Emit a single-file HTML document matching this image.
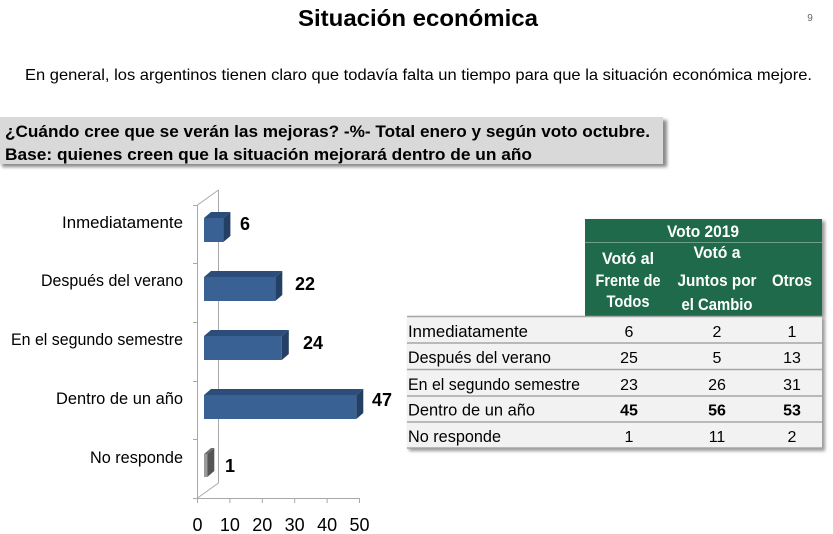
<!DOCTYPE html>
<html><head><meta charset="utf-8"><style>
html,body{margin:0;padding:0;background:#fff;}
svg{display:block;}
text{font-family:"Liberation Sans",Arial,sans-serif;}
</style></head><body>
<svg width="833" height="534" viewBox="0 0 833 534" xmlns="http://www.w3.org/2000/svg">
<defs>
<filter id="sh" x="-5%" y="-20%" width="115%" height="150%"><feGaussianBlur stdDeviation="1.5"/></filter>
</defs>
<rect width="833" height="534" fill="#fff"/>
<!-- Title -->
<text x="418" y="26" text-anchor="middle" font-size="23" font-weight="bold" fill="#000" textLength="240" lengthAdjust="spacingAndGlyphs">Situación económica</text>
<text x="810" y="21" text-anchor="middle" font-size="10" fill="#666">9</text>
<text x="25" y="80" font-size="16" fill="#000" textLength="787" lengthAdjust="spacingAndGlyphs">En general, los argentinos tienen claro que todavía falta un tiempo para que la situación económica mejore.</text>

<!-- Gray box -->
<rect x="2" y="120" width="665" height="47" fill="#8a8a8a" filter="url(#sh)"/>
<rect x="0" y="117" width="663" height="47" fill="#d9d9d9"/>
<text x="5" y="137" font-size="16.5" font-weight="bold" fill="#000" textLength="645" lengthAdjust="spacingAndGlyphs">¿Cuándo cree que se verán las mejoras? -%- Total enero y según voto octubre.</text>
<text x="5" y="160" font-size="16.5" font-weight="bold" fill="#000" textLength="527" lengthAdjust="spacingAndGlyphs">Base: quienes creen que la situación mejorará dentro de un año</text>

<!-- Chart axes -->
<g stroke="#a8a8a8" stroke-width="1" fill="none">
<line x1="197.5" y1="205" x2="197.5" y2="498"/>
<line x1="218.5" y1="190" x2="218.5" y2="483"/>
<line x1="197.5" y1="205" x2="218.5" y2="190"/>
<line x1="197.5" y1="498" x2="218.5" y2="483"/>
<line x1="197" y1="498.5" x2="359.5" y2="498.5"/>
<line x1="193" y1="205.5" x2="197.5" y2="205.5"/>
<line x1="193" y1="263.5" x2="197.5" y2="263.5"/>
<line x1="193" y1="322.5" x2="197.5" y2="322.5"/>
<line x1="193" y1="381.5" x2="197.5" y2="381.5"/>
<line x1="193" y1="439.5" x2="197.5" y2="439.5"/>
<line x1="193" y1="498.5" x2="197.5" y2="498.5"/>
<line x1="197.5" y1="498" x2="197.5" y2="503"/>
<line x1="229.9" y1="498" x2="229.9" y2="503"/>
<line x1="262.3" y1="498" x2="262.3" y2="503"/>
<line x1="294.7" y1="498" x2="294.7" y2="503"/>
<line x1="327.1" y1="498" x2="327.1" y2="503"/>
<line x1="359.5" y1="498" x2="359.5" y2="503"/>
</g>
<g font-size="18" fill="#000" text-anchor="middle">
<text x="197.5" y="531">0</text>
<text x="229.9" y="531">10</text>
<text x="262.3" y="531">20</text>
<text x="294.7" y="531">30</text>
<text x="327.1" y="531">40</text>
<text x="359.5" y="531">50</text>
</g>

<!-- Category labels -->
<g font-size="16.5" fill="#000" text-anchor="end">
<text x="183" y="228" textLength="121" lengthAdjust="spacingAndGlyphs">Inmediatamente</text>
<text x="183" y="286" textLength="142" lengthAdjust="spacingAndGlyphs">Después del verano</text>
<text x="183" y="345" textLength="172" lengthAdjust="spacingAndGlyphs">En el segundo semestre</text>
<text x="183" y="404" textLength="127" lengthAdjust="spacingAndGlyphs">Dentro de un año</text>
<text x="183" y="463" textLength="93" lengthAdjust="spacingAndGlyphs">No responde</text>
</g>

<!-- Bars -->
<rect x="204" y="218" width="19.4" height="24" fill="#3a6194"/>
<polygon points="204,218 223.4,218 230.4,212 211,212" fill="#2c4d7a"/>
<polygon points="223.4,218 230.4,212 230.4,236 223.4,242" fill="#243f66"/>
<rect x="204" y="277" width="71.3" height="24" fill="#3a6194"/>
<polygon points="204,277 275.3,277 282.3,271 211,271" fill="#2c4d7a"/>
<polygon points="275.3,277 282.3,271 282.3,295 275.3,301" fill="#243f66"/>
<rect x="204" y="336" width="77.8" height="24" fill="#3a6194"/>
<polygon points="204,336 281.8,336 288.8,330 211,330" fill="#2c4d7a"/>
<polygon points="281.8,336 288.8,330 288.8,354 281.8,360" fill="#243f66"/>
<rect x="204" y="395" width="152.3" height="24" fill="#3a6194"/>
<polygon points="204,395 356.3,395 363.3,389 211,389" fill="#2c4d7a"/>
<polygon points="356.3,395 363.3,389 363.3,413 356.3,419" fill="#243f66"/>
<rect x="204" y="454" width="3.3" height="23" fill="#9a9a9a"/>
<polygon points="204,454 207.3,454 214.3,448 211,448" fill="#6e6e6e"/>
<polygon points="207.3,454 214.3,448 214.3,471 207.3,477" fill="#555555"/>

<!-- Value labels -->
<g font-size="18" font-weight="bold" fill="#000">
<text x="240" y="230">6</text>
<text x="295" y="290">22</text>
<text x="303" y="349">24</text>
<text x="372" y="406">47</text>
<text x="225" y="472">1</text>
</g>

<!-- Table -->
<rect x="409" y="318" width="416" height="133" fill="#9a9a9a" filter="url(#sh)"/>
<rect x="588" y="221" width="237" height="97" fill="#9a9a9a" filter="url(#sh)"/>
<rect x="585" y="219" width="237" height="97" fill="#1f6a4a"/>
<line x1="585" y1="242.5" x2="822" y2="242.5" stroke="#6f9f88" stroke-width="1"/>
<rect x="407" y="316" width="415" height="132" fill="#f2f2f2"/>
<g stroke="#a6a6a6" stroke-width="1.5">
<line x1="407" y1="316.5" x2="822" y2="316.5"/>
<line x1="407" y1="343" x2="822" y2="343"/>
<line x1="407" y1="369.5" x2="822" y2="369.5"/>
<line x1="407" y1="396" x2="822" y2="396"/>
<line x1="407" y1="422" x2="822" y2="422"/>
<line x1="407" y1="448" x2="822" y2="448"/>
</g>
<g font-size="16.5" font-weight="bold" fill="#fff" text-anchor="middle">
<text x="703" y="237" textLength="72" lengthAdjust="spacingAndGlyphs">Voto 2019</text>
<text x="628" y="264" textLength="52" lengthAdjust="spacingAndGlyphs">Votó al</text>
<text x="628" y="286" textLength="65" lengthAdjust="spacingAndGlyphs">Frente de</text>
<text x="628" y="307" textLength="43" lengthAdjust="spacingAndGlyphs">Todos</text>
<text x="717" y="258" textLength="47" lengthAdjust="spacingAndGlyphs">Votó a</text>
<text x="717" y="286" textLength="79" lengthAdjust="spacingAndGlyphs">Juntos por</text>
<text x="717" y="310" textLength="71" lengthAdjust="spacingAndGlyphs">el Cambio</text>
<text x="792" y="286" textLength="40" lengthAdjust="spacingAndGlyphs">Otros</text>
</g>
<g font-size="16.5" fill="#000">
<text x="408" y="337" textLength="120" lengthAdjust="spacingAndGlyphs">Inmediatamente</text>
<text x="408" y="363" textLength="143" lengthAdjust="spacingAndGlyphs">Después del verano</text>
<text x="408" y="390" textLength="172" lengthAdjust="spacingAndGlyphs">En el segundo semestre</text>
<text x="408" y="415.5" textLength="127" lengthAdjust="spacingAndGlyphs">Dentro de un año</text>
<text x="408" y="442" textLength="93" lengthAdjust="spacingAndGlyphs">No responde</text>
</g>
<g font-size="16" fill="#000" text-anchor="middle">
<text x="629" y="337">6</text><text x="717" y="337">2</text><text x="792" y="337">1</text>
<text x="629" y="363">25</text><text x="717" y="363">5</text><text x="792" y="363">13</text>
<text x="629" y="390">23</text><text x="717" y="390">26</text><text x="792" y="390">31</text>
<text x="629" y="415.5" font-weight="bold">45</text><text x="717" y="415.5" font-weight="bold">56</text><text x="792" y="415.5" font-weight="bold">53</text>
<text x="629" y="442">1</text><text x="717" y="442">11</text><text x="792" y="442">2</text>
</g>
</svg>
</body></html>
